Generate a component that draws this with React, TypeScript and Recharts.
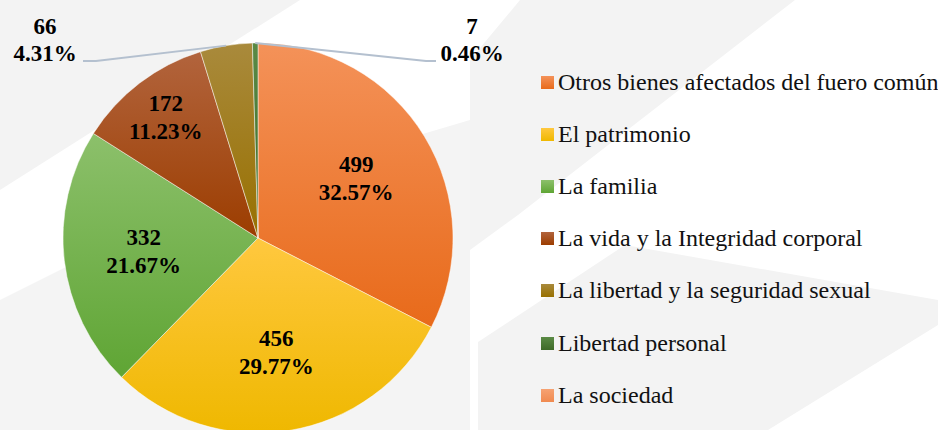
import { PieChart, Pie, Cell, Legend } from "recharts";

const categories = [
  "Otros bienes afectados del fuero común",
  "El patrimonio",
  "La familia",
  "La vida y la Integridad corporal",
  "La libertad y la seguridad sexual",
  "Libertad personal",
  "La sociedad",
];
const values = [499, 456, 332, 172, 66, 7, 0];

// top / bottom colours of each slice gradient
const topColors = ["#f49259", "#ffc83f", "#8cc06b", "#b2643d", "#a98a3c", "#5a8a45", "#f6a272"];
const bottomColors = ["#e86a1a", "#efb800", "#5fa534", "#9c3d00", "#987000", "#3e6a28", "#f08a50"];

const data = categories.map((name, i) => ({ name, value: values[i] }));

const RAD = Math.PI / 180;
const FONT = "'Liberation Serif', 'Times New Roman', serif";

const renderLabel = (props: any) => {
  const { cx, cy, midAngle, outerRadius, percent, value } = props;
  if (!value) return null;
  const pct = (percent * 100).toFixed(2) + "%";
  const cos = Math.cos(-midAngle * RAD);
  const sin = Math.sin(-midAngle * RAD);
  if (percent < 0.06) {
    // outside label with a leader line
    const ex = cx + outerRadius * cos;
    const ey = cy + outerRadius * sin;
    const left = cos < -0.05;
    const elbowX = cx + (left ? -162 : 168);
    const elbowY = cy - outerRadius + 18;
    const endX = elbowX + (left ? -13 : 10);
    const tx = endX + (left ? -38 : 36);
    return (
      <g>
        <polyline
          points={`${ex},${ey} ${elbowX},${elbowY} ${endX},${elbowY}`}
          fill="none"
          stroke="#b4c0cf"
          strokeWidth={2}
        />
        <text x={tx} y={elbowY - 27} textAnchor="middle" fontFamily={FONT} fontWeight="bold" fontSize={23} fill="#000">
          <tspan x={tx}>{value}</tspan>
          <tspan x={tx} dy={27}>{pct}</tspan>
        </text>
      </g>
    );
  }
  const r = outerRadius * (percent < 0.15 ? 0.78 : 0.59);
  const x = cx + r * cos;
  const y = cy + r * sin;
  return (
    <text x={x} y={y - 6} textAnchor="middle" fontFamily={FONT} fontWeight="bold" fontSize={23} fill="#000">
      <tspan x={x}>{value}</tspan>
      <tspan x={x} dy={28}>{pct}</tspan>
    </text>
  );
};

const renderLegend = () => (
  <div style={{ fontFamily: FONT, fontSize: 24, color: "#111" }}>
    {categories.map((c, i) => (
      <div key={c} style={{ height: 52.2, display: "flex", alignItems: "center", whiteSpace: "nowrap" }}>
        <svg width={13} height={13} style={{ marginRight: 4, flex: "none" }}>
          <defs>
            <linearGradient id={`leg${i}`} x1="0" y1="0" x2="0" y2="1">
              <stop offset="0" stopColor={topColors[i]} />
              <stop offset="1" stopColor={bottomColors[i]} />
            </linearGradient>
          </defs>
          <rect width={13} height={13} fill={`url(#leg${i})`} />
        </svg>
        <span>{c}</span>
      </div>
    ))}
  </div>
);

export default function App() {
  return (
    <div style={{ position: "absolute", left: 0, top: 0, width: 938, height: 430, background: "#fff", overflow: "hidden" }}>
      <svg width={938} height={430} style={{ position: "absolute", left: 0, top: 0 }}>
        <polygon points="0,0 300,0 0,190" fill="#f3f3f3" />
        <polygon points="0,300 200,200 470,120 470,430 0,430" fill="#f4f4f4" />
        <polygon points="520,0 795,0 518,215 470,250 470,60" fill="#f3f3f3" />
        <polygon points="478,342 625,245 938,300 938,325 768,430 478,430" fill="#f3f3f3" />
      </svg>
      <PieChart
        width={938}
        height={430}
        margin={{ top: 0, right: 0, bottom: 0, left: 0 }}
        style={{ position: "absolute", left: 0, top: 0 }}
      >
        <defs>
          {categories.map((c, i) => (
            <linearGradient key={c} id={`grad${i}`} x1="0" y1="0" x2="0" y2="1">
              <stop offset="0" stopColor={topColors[i]} />
              <stop offset="1" stopColor={bottomColors[i]} />
            </linearGradient>
          ))}
        </defs>
        <Pie
          data={data}
          dataKey="value"
          nameKey="name"
          cx={258}
          cy={238}
          outerRadius={195}
          startAngle={90}
          endAngle={-270}
          stroke="#ffffff"
          strokeOpacity={0.6}
          strokeWidth={0.8}
          label={renderLabel}
          labelLine={false}
          isAnimationActive={false}
        >
          {data.map((d, i) => (
            <Cell key={d.name} fill={`url(#grad${i})`} />
          ))}
        </Pie>
        <Legend
          layout="vertical"
          verticalAlign="top"
          align="right"
          content={renderLegend}
          wrapperStyle={{ left: 541, top: 56, width: 397 }}
        />
      </PieChart>
    </div>
  );
}
